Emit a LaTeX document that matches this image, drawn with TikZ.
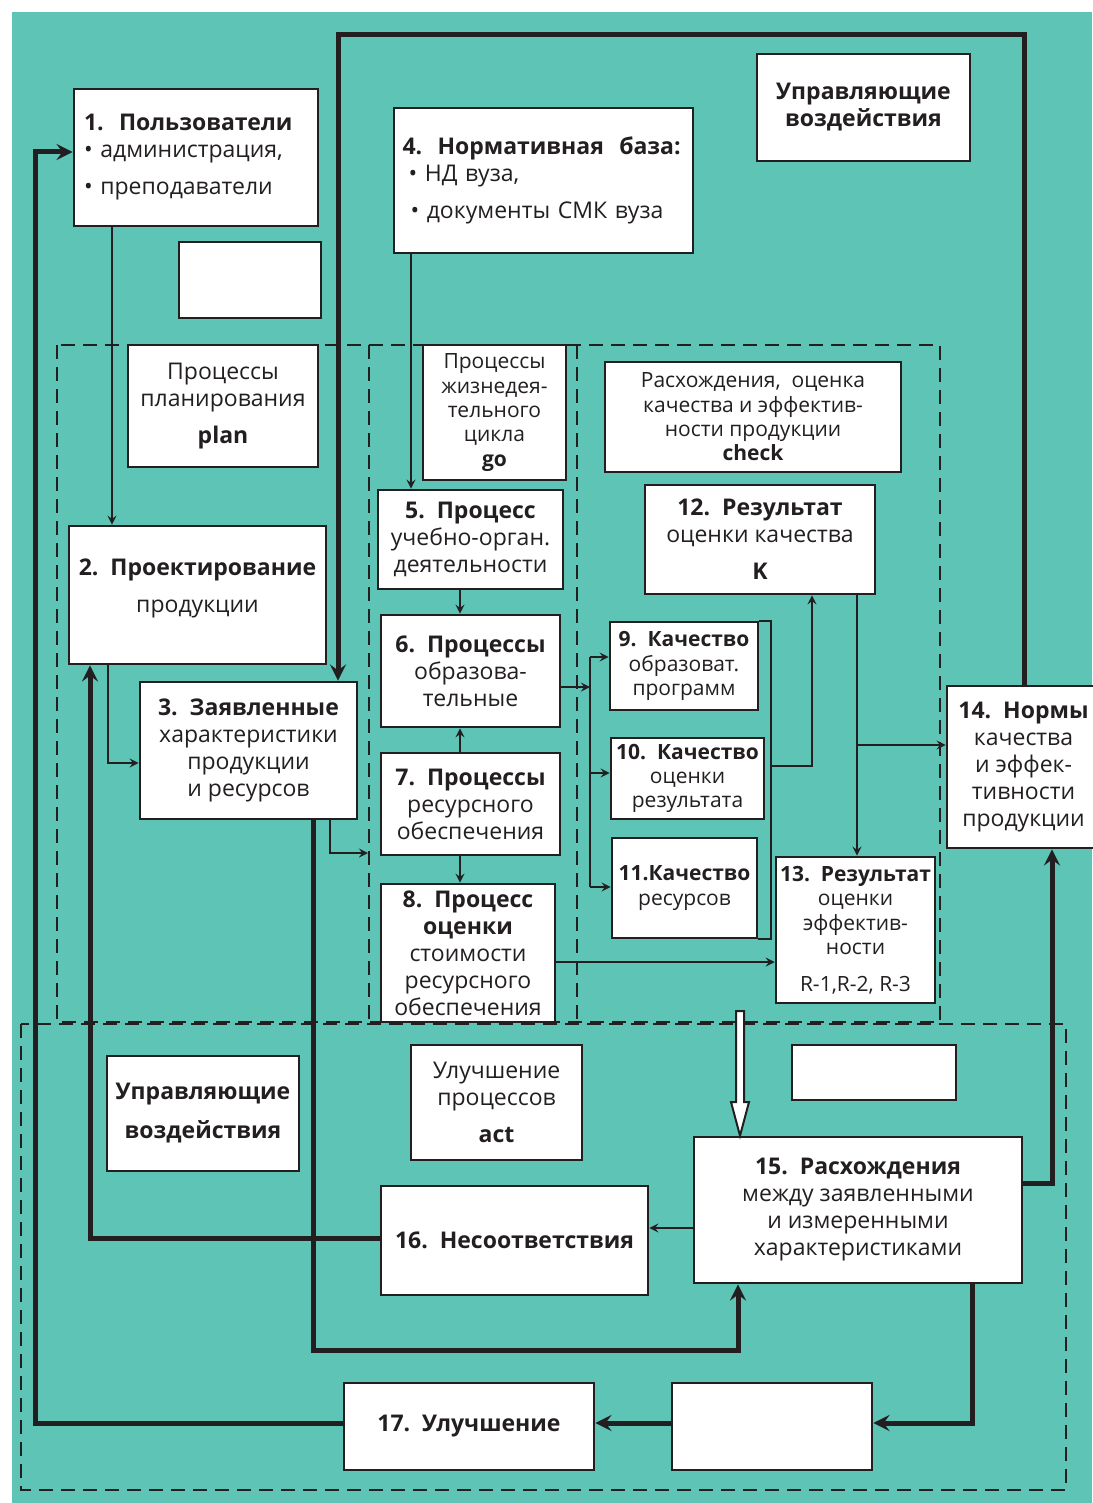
\documentclass[tikz,border=0pt]{standalone}
\usepackage{fontspec}
\setmainfont{Open Sans}
\usetikzlibrary{arrows}
\definecolor{sea}{RGB}{94,196,182}
\definecolor{ink}{RGB}{35,31,32}
\tikzset{
    blk/.style={draw=ink, fill=white, line width=1.3pt, inner sep=2pt, align=center, text=ink, font=\fontsize{11.5}{13.5}\selectfont},
    smalltxt/.style={font=\fontsize{10.5}{12.2}\selectfont},
    link/.style={draw=ink, line width=1pt, -stealth},
    busline/.style={draw=ink, line width=1pt},
    trunk/.style={draw=ink, line width=2.5pt, -stealth},
    zone/.style={draw=ink, line width=1pt, dash pattern=on 7pt off 4pt},
}
% box given by its corners in pixels of the original sheet
\newcommand\panel[7][]{%
    \node[blk, minimum width={(#5-#3)*0.5pt}, minimum height={(#6-#4)*0.5pt}, #1] (#2) at ({(#3+#5)/2},{(#4+#6)/2}) {#7};}

\begin{document}
\begin{tikzpicture}[x=0.5pt, y=-0.5pt]
\useasboundingbox (0,0) rectangle (1092,1503);
\fill[sea] (12,12) rectangle (1092,1503);

\draw[zone] (57,345) rectangle (940,1022);
\draw[zone] (369,345) -- (369,1022);
\draw[zone] (577,345) -- (577,1022);
\draw[zone] (21,1024) rectangle (1066,1490);

\panel[text width=112pt, align=left]{b1}{74}{89}{318}{226}{{\bfseries 1.\ \ Пользователи}\\ • администрация,\\[5pt] • преподаватели}
\panel{blank1}{179}{242}{321}{318}{}
\panel[text width=141pt, align=left]{b4}{394}{108}{693}{253}{{\bfseries 4.\ \ Нормативная\ \ база:}\\ \hspace{3pt}• НД вуза,\\[5pt] \hspace{4pt}• документы СМК вуза}
\panel{ctrl1}{757}{54}{970}{161}{\bfseries Управляющие\\ \bfseries воздействия}
\panel{plan}{128}{345}{318}{467}{Процессы\\планирования\\[5pt]{\bfseries plan}}
\panel[smalltxt]{go}{423}{345}{566}{480}{Процессы\\жизнедея-\\тельного\\цикла\\{\bfseries go}}
\panel[smalltxt]{check}{605}{362}{901}{472}{Расхождения,\ \ оценка\\качества и эффектив-\\ности продукции\\{\bfseries check}}
\panel{b2}{69}{526}{326}{664}{{\bfseries 2.\ \ Проектирование}\\[5pt]продукции\\[-4pt]}
\panel{b3}{140}{682}{357}{819}{{\bfseries 3.\ \ Заявленные}\\характеристики\\продукции\\и ресурсов}
\panel{b5}{378}{490}{563}{589}{{\bfseries 5.\ \ Процесс}\\учебно-орган.\\деятельности}
\panel{b6}{381}{615}{560}{727}{{\bfseries 6.\ \ Процессы}\\образова-\\тельные}
\panel{b7}{381}{753}{560}{855}{{\bfseries 7.\ \ Процессы}\\ресурсного\\обеспечения}
\panel{b8}{381}{884}{555}{1022}{{\bfseries 8.\ \ Процесс}\\{\bfseries оценки}\\стоимости\\ресурсного\\обеспечения}
\panel{b12}{645}{485}{875}{594}{{\bfseries 12.\ \ Результат}\\оценки качества\\[5pt]{\bfseries K}}
\panel[smalltxt]{b9}{610}{622}{758}{710}{{\bfseries 9.\ \ Качество}\\образоват.\\программ}
\panel[smalltxt]{b10}{611}{738}{764}{819}{{\bfseries 10.\ \ Качество}\\оценки\\результата}
\panel[smalltxt]{b11}{612}{838}{757}{938}{{\bfseries 11.Качество}\\ресурсов}
\panel[smalltxt]{b13}{777}{857}{934}{1003}{{\bfseries 13.\ \ Результат}\\оценки\\эффектив-\\ности\\[6pt]R-1,R-2, R-3}
\panel{b14}{947}{686}{1100}{848}{{\bfseries 14.\ \ Нормы}\\качества\\и эффек-\\тивности\\продукции}
\panel{ctrl2}{107}{1056}{299}{1171}{\bfseries Управляющие\\[6pt] \bfseries воздействия}
\panel{act}{411}{1045}{582}{1160}{Улучшение\\процессов\\[5pt]{\bfseries act}}
\panel{blank2}{792}{1045}{956}{1100}{}
\panel{b15}{694}{1137}{1022}{1283}{{\bfseries 15.\ \ Расхождения}\\между заявленными\\и измеренными\\характеристиками}
\panel{b16}{381}{1186}{648}{1295}{\bfseries 16.\ \ Несоответствия}
\panel{b17}{344}{1383}{594}{1470}{\bfseries 17.\ \ Улучшение}
\panel{blank3}{672}{1383}{872}{1470}{}

\draw[link] (112,0 |- b1.south) -- (112,0 |- b2.north);
\draw[link] (411,0 |- b4.south) -- (411,0 |- b5.north);
\draw[link] (460,0 |- b5.south) -- (460,0 |- b6.north);
\draw[link] (460,0 |- b7.north) -- (460,0 |- b6.south);
\draw[link] (460,0 |- b7.south) -- (460,0 |- b8.north);
\draw[link] (108,0 |- b2.south) |- (b3.west |- 0,763);
\draw[link] (330,0 |- b3.south) |- (368,853);

\draw[busline] (590,657) -- (590,887);
\draw[link] (b6.east |- 0,687) -- (590,687);
\draw[link] (590,657) -- (b9.west |- 0,657);
\draw[link] (590,773) -- (b10.west |- 0,773);
\draw[link] (590,887) -- (b11.west |- 0,887);
\draw[busline] (b9.north east) -- (771,0 |- b9.north) -- (771,0 |- b11.south) -- (b11.south east);
\draw[link] (771,766) -| (812,0 |- b12.south);
\draw[link] (857,0 |- b12.south) -- (857,0 |- b13.north);
\draw[link] (857,745) -- (b14.west |- 0,745);
\draw[link] (b8.east |- 0,962) -- (b13.west |- 0,962);
\draw[link] (b15.west |- 0,1228) -- (b16.east |- 0,1228);

\draw[trunk] (1024,0 |- b14.north) -- (1024,35) -| (338,0 |- b3.north);
\draw[trunk] (b16.west |- 0,1238) -| (90,0 |- b2.south);
\draw[trunk] (313,0 |- b3.south) |- (738,1350) -- (738,0 |- b15.south);
\draw[trunk] (b15.east |- 0,1183) -| (1052,0 |- b14.south);
\draw[trunk] (972,0 |- b15.south) |- (blank3.east |- 0,1423);
\draw[trunk] (blank3.west |- 0,1423) -- (b17.east |- 0,1423);
\draw[trunk] (b17.west |- 0,1423) -| (35,152) -- (b1.west |- 0,152);

\draw[draw=ink, fill=white, line width=1pt] (736,1011) -- (744,1011) -- (744,1102) -- (749,1102) -- (740,0 |- b15.north) -- (731,1102) -- (736,1102) -- cycle;
\end{tikzpicture}
\end{document}
